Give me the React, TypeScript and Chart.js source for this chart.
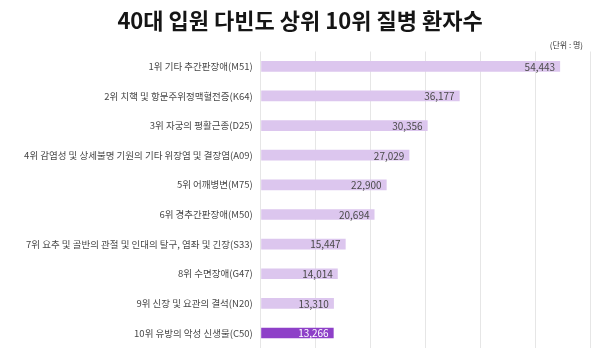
import React, { useEffect, useRef } from "react";
import { Chart, registerables } from "chart.js";

Chart.register(...registerables);

const TITLE = "40대 입원 다빈도 상위 10위 질병 환자수";
const UNIT = "(단위 : 명)";

const categories = [
  "1위 기타 추간판장애(M51)",
  "2위 치핵 및 항문주위정맥혈전증(K64)",
  "3위 자궁의 평활근종(D25)",
  "4위 감염성 및 상세불명 기원의 기타 위장염 및 결장염(A09)",
  "5위 어깨병변(M75)",
  "6위 경추간판장애(M50)",
  "7위 요추 및 골반의 관절 및 인대의 탈구, 염좌 및 긴장(S33)",
  "8위 수면장애(G47)",
  "9위 신장 및 요관의 결석(N20)",
  "10위 유방의 악성 신생물(C50)",
];

const patients = [54443, 36177, 30356, 27029, 22900, 20694, 15447, 14014, 13310, 13266];

const highlightIndex = [9];

const axisMin = 0;
const axisMax = 60000;
const axisStep = 10000;

const LIGHT = "#dcc6ee";
const DARK = "#8e40c8";
const FONT = "'Noto Sans CJK KR', 'Noto Sans', sans-serif";

const overlayPlugin = {
  id: "overlay",
  afterDatasetsDraw(chart: any) {
    const ctx = chart.ctx;
    const meta = chart.getDatasetMeta(0);
    ctx.save();
    ctx.font = `10px ${FONT}`;
    ctx.textAlign = "right";
    ctx.textBaseline = "middle";
    meta.data.forEach((bar: any, i: number) => {
      const v = patients[i];
      ctx.fillStyle = highlightIndex.includes(i) ? "#ffffff" : "#4a4a4a";
      ctx.fillText(v.toLocaleString("en-US"), bar.x - 5, bar.y + 0.5);
    });
    ctx.restore();
  },
  afterDraw(chart: any) {
    const ctx = chart.ctx;
    ctx.save();
    ctx.fillStyle = "#151515";
    ctx.font = `bold 22px ${FONT}`;
    ctx.textAlign = "center";
    ctx.textBaseline = "middle";
    ctx.fillText(TITLE, 300, 21);
    ctx.fillStyle = "#333333";
    ctx.font = `8px ${FONT}`;
    ctx.textAlign = "right";
    ctx.fillText(UNIT, 583, 45);
    ctx.restore();
  },
};

export default function App() {
  const ref = useRef<HTMLCanvasElement | null>(null);

  useEffect(() => {
    if (!ref.current) return;
    const chart = new Chart(ref.current, {
      type: "bar",
      data: {
        labels: categories,
        datasets: [
          {
            data: patients,
            backgroundColor: patients.map((_, i) => (highlightIndex.includes(i) ? DARK : LIGHT)),
            borderWidth: 0,
            barPercentage: 0.36,
            categoryPercentage: 1,
          },
        ],
      },
      options: {
        indexAxis: "y",
        animation: false,
        responsive: false,
        maintainAspectRatio: false,
        layout: { padding: { top: 51.5, right: 9.3, bottom: 15.2, left: 0 } },
        plugins: {
          legend: { display: false },
          tooltip: { enabled: false },
          title: { display: false },
        },
        scales: {
          x: {
            min: axisMin,
            max: axisMax,
            ticks: { display: false, stepSize: axisStep },
            grid: { color: "#e6e6e6", lineWidth: 1, drawTicks: false },
            border: { display: false },
            afterFit: (s: any) => {
              s.height = 0;
            },
          },
          y: {
            ticks: {
              color: "#474747",
              font: { family: FONT, size: 9.5 },
              padding: 8,
            },
            grid: { display: false, drawTicks: false },
            border: { display: false },
            afterFit: (s: any) => {
              s.width = 260.7;
            },
          },
        },
      },
      plugins: [overlayPlugin],
    });
    return () => chart.destroy();
  }, []);

  return (
    <div style={{ position: "absolute", left: 0, top: 0, width: 600, height: 363, background: "#fff" }}>
      <canvas ref={ref} width={600} height={363} style={{ display: "block" }} />
    </div>
  );
}
